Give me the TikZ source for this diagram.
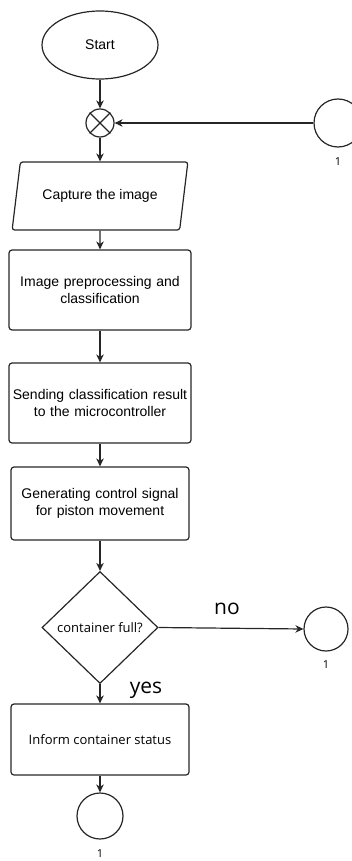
\documentclass[tikz,border=0pt]{standalone}
\usepackage{fontspec}
\setmainfont{Liberation Sans}
\newfontfamily\opensans{Open Sans}
\usetikzlibrary{shapes.geometric,arrows.meta}
\begin{document}
\begin{tikzpicture}[x=1pt,y=-1pt,
  line width=1.2pt, draw=black!85,
  flow/.style={-{Stealth[length=8pt,width=7.5pt,inset=2.5pt]}},
  base/.style={draw, inner sep=0pt, align=center, font=\fontsize{14}{16.7}\selectfont},
  proc/.style={base, rectangle, rounded corners=3pt},
  terminal/.style={base, ellipse, minimum width=116pt, minimum height=68pt},
  ioshape/.style={base, trapezium, trapezium left angle=65.5, trapezium right angle=114.5,
    trapezium stretches=true, rounded corners=2.5pt, minimum width=176pt, minimum height=68pt},
  decision/.style={base, diamond, aspect=1.036, minimum width=116pt, minimum height=112pt,
    font=\opensans\fontsize{13}{15}\selectfont},
  connector/.style={draw, circle, inner sep=0pt},
  numlbl/.style={font=\opensans\fontsize{11}{12}\selectfont, inner sep=0pt},
  branch/.style={font=\opensans\fontsize{21}{22}\selectfont, inner sep=0pt},
]
\useasboundingbox (0,0) rectangle (352,861);
\clip (0,0) rectangle (352,861);

% main column
\node[terminal] (start) at (100,45) {Start};
\node[connector, minimum size=28pt] (jn) at (100,123) {};
\draw (jn.north east) -- (jn.south west) (jn.north west) -- (jn.south east);
\node[ioshape] (cap) at (100,196) {Capture the image};
\node[proc, minimum width=182pt, minimum height=80pt, text width=180pt] (pre) at (100,290)
  {Image preprocessing and\\classification};
\node[proc, minimum width=182pt, minimum height=80pt, text width=182pt] (send) at (100,403)
  {Sending classification result\\to the microcontroller};
\node[proc, minimum width=178pt, minimum height=73pt, text width=176pt] (gen) at (100,503.5)
  {Generating control signal\\for piston movement};
\node[decision] (full) at (100,627.5) {container full?};
\node[proc, minimum width=178pt, minimum height=71pt, font=\opensans\fontsize{13}{15}\selectfont]
  (inform) at (100,739.5) {Inform container status};

% off-page connectors
\node[connector, minimum size=48pt] (in1) at (338,123) {};
\node[numlbl] (in1l) at (338,161.5) {1};
\node[connector, minimum size=44pt] (out1) at (326,629) {};
\node[numlbl] (out1l) at (326,664.5) {1};
\node[connector, minimum size=46pt] (end1) at (100,816) {};
\node[numlbl] (end1l) at (100,854) {1};

% branch labels
\node[branch] (no) at (227,609) {no};
\node[branch] (yes) at (146,690) {yes};

% flow lines
\draw[flow] (start) -- (jn);
\draw[flow] (in1.west) -- (jn.east);
\draw[flow] (jn) -- (cap);
\draw[flow] (cap) -- (pre);
\draw[flow] (pre) -- (send);
\draw[flow] (send) -- (gen);
\draw[flow] (gen) -- (full);
\draw[flow] (full.east) -- (out1.west);
\draw[flow] (full.south) -- (inform.north);
\draw[flow] (inform) -- (end1);
\end{tikzpicture}
\end{document}
